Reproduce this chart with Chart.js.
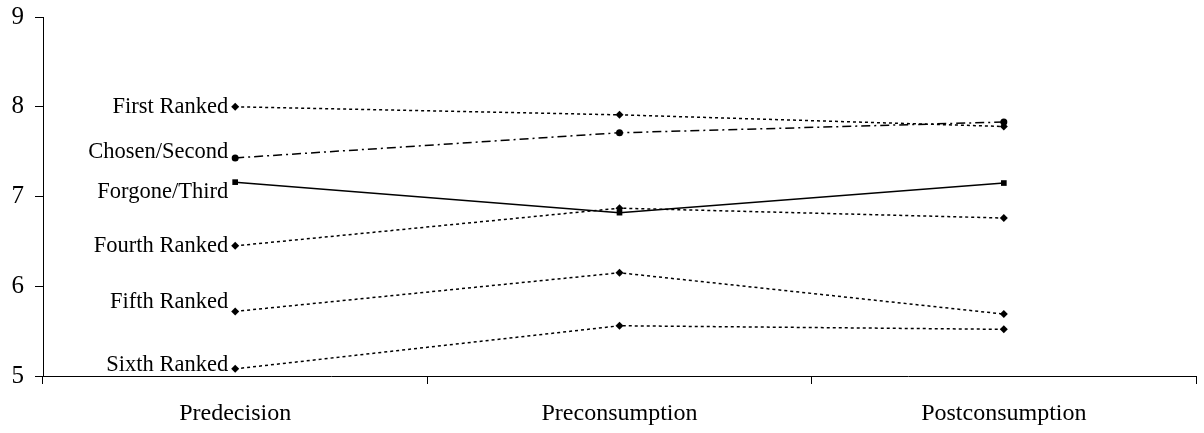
<!DOCTYPE html>
<html>
<head>
<meta charset="utf-8">
<script src="https://cdn.jsdelivr.net/npm/chart.js@4/dist/chart.umd.min.js"></script>
<style>
  html, body { margin: 0; padding: 0; background: #fff; }
  #wrap { width: 1204px; height: 433px; }
</style>
</head>
<body>
<div id="wrap"><canvas id="chart-area" width="1204" height="433"></canvas></div>
<script>
'use strict';

// data
var stages = ['Predecision', 'Preconsumption', 'Postconsumption'];
var seriesNames = ['First Ranked', 'Chosen/Second', 'Forgone/Third', 'Fourth Ranked', 'Fifth Ranked', 'Sixth Ranked'];
var firstRanked = [8.00, 7.91, 7.78];
var chosenSecond = [7.43, 7.71, 7.83];
var forgoneThird = [7.16, 6.82, 7.15];
var fourthRanked = [6.45, 6.87, 6.76];
var fifthRanked = [5.72, 6.15, 5.69];
var sixthRanked = [5.08, 5.56, 5.52];
var yTicks = [5, 6, 7, 8, 9];

var serif = '"Liberation Serif", "DejaVu Serif", serif';

// vertical nudge for the name labels next to the first point
var labelNudge = [0, -6, 10, 0, -9, -4];

function makeSet(name, values, dash, pointStyle, radius) {
	return {
		label: name,
		data: values,
		borderColor: '#000',
		backgroundColor: '#000',
		borderWidth: 1.5,
		borderDash: dash,
		pointStyle: pointStyle,
		pointRadius: radius,
		pointBorderWidth: 0,
		tension: 0
	};
}

//draws the series names to the left of the first point
var nameLabels = {
	id: 'nameLabels',
	afterDatasetsDraw: function (chart) {
		var ctx = chart.ctx;
		ctx.save();
		ctx.font = '22.5px ' + serif;
		ctx.fillStyle = '#000';
		ctx.textAlign = 'right';
		ctx.textBaseline = 'middle';
		chart.data.datasets.forEach(function (ds, i) {
			var pt = chart.getDatasetMeta(i).data[0];
			ctx.fillText(ds.label, pt.x - 7, pt.y + labelNudge[i]);
		});
		ctx.restore();
	}
};

var config = {
	type: 'line',
	data: {
		labels: stages,
		datasets: [
			makeSet(seriesNames[0], firstRanked, [3, 3], 'rectRot', 4),
			makeSet(seriesNames[1], chosenSecond, [9, 4, 2, 4], 'circle', 3.5),
			makeSet(seriesNames[2], forgoneThird, [], 'rect', 4),
			makeSet(seriesNames[3], fourthRanked, [3, 3], 'rectRot', 4),
			makeSet(seriesNames[4], fifthRanked, [3, 3], 'rectRot', 4),
			makeSet(seriesNames[5], sixthRanked, [3, 3], 'rectRot', 4)
		]
	},
	options: {
		responsive: false,
		animation: false,
		layout: { padding: { top: 17, right: 8, left: 0, bottom: 0 } },
		plugins: {
			legend: { display: false },
			tooltip: { enabled: false }
		},
		scales: {
			x: {
				offset: true,
				grid: { offset: true, drawOnChartArea: false, tickLength: 8, color: '#000' },
				border: { color: '#000', width: 1 },
				ticks: { color: '#000', font: { family: serif, size: 24 }, padding: 15, maxRotation: 0 },
				afterFit: function (s) { s.height = 57; }
			},
			y: {
				min: 5,
				max: 9,
				afterBuildTicks: function (s) { s.ticks = yTicks.map(function (v) { return { value: v }; }); },
				grid: { drawOnChartArea: false, tickLength: 8, color: '#000' },
				border: { color: '#000', width: 1 },
				ticks: { color: '#000', font: { family: serif, size: 25 }, padding: 11 },
				afterFit: function (s) {
					s.width = 43;
					s.paddingTop = 0;
					s.paddingBottom = 0;
				}
			}
		}
	},
	plugins: [nameLabels]
};

var ctx = document.getElementById('chart-area').getContext('2d');
window.myLine = new Chart(ctx, config);
</script>
</body>
</html>
